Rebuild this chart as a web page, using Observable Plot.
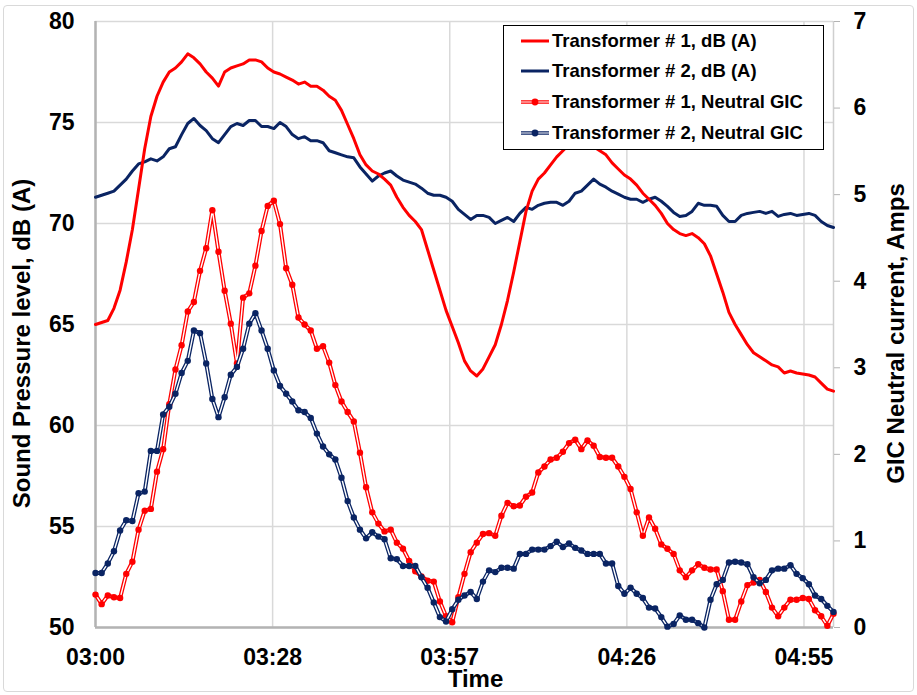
<!DOCTYPE html>
<html>
<head>
<meta charset="utf-8">
<script src="https://cdn.jsdelivr.net/npm/d3@7"></script>
<script src="https://cdn.jsdelivr.net/npm/@observablehq/plot@0.6"></script>
<style>
  body { margin: 0; background: #fff; font-family: "Liberation Sans", Arial, sans-serif; }
  #wrap { position: relative; width: 917px; height: 695px; overflow: hidden; }
  #frame { position: absolute; left: 3px; top: 5px; width: 911px; height: 687px; border: 1px solid #d9d9d9; border-radius: 4px; box-sizing: border-box; pointer-events: none; }
  #legend { position: absolute; left: 503px; top: 25px; width: 321px; height: 125px; border: 1.5px solid #000; background: #fff; box-sizing: border-box; }
  .item { position: absolute; left: 17px; height: 30px; display: flex; align-items: center; font-weight: bold; font-size: 18.5px; color: #000; white-space: nowrap; }
  .item svg { margin-right: 3px; }
</style>
</head>
<body>
<div id="wrap"><div id="frame"></div></div>
<script>
// ---- data (one sample per minute starting 03:00) ----
const startLabel = "03:00";
const t1dB = [65.0,65.1,65.2,65.8,66.7,68.1,69.7,71.7,73.7,75.3,76.3,77.0,77.5,77.7,78.0,78.4,78.2,77.9,77.5,77.2,
  76.8,77.5,77.7,77.8,77.9,78.1,78.1,78.0,77.7,77.5,77.4,77.25,77.1,76.9,77.0,76.8,76.8,76.6,76.3,76.1,
  75.6,74.9,74.2,73.4,72.9,72.6,72.45,72.2,71.9,71.3,70.8,70.4,70.1,69.7,68.7,67.7,66.7,65.7,64.9,64.1,
  63.2,62.7,62.45,62.8,63.4,64.0,65.0,66.2,67.6,69.1,70.6,71.6,72.2,72.5,72.9,73.3,73.6,73.9,74.1,74.2,
  74.1,73.8,73.6,73.4,73.0,72.7,72.4,72.2,71.9,71.5,71.2,70.9,70.5,70.0,69.7,69.5,69.4,69.5,69.3,69.0,
  68.4,67.5,66.6,65.6,65.0,64.5,64.0,63.6,63.4,63.2,63.0,62.9,62.6,62.7,62.6,62.55,62.5,62.4,62.1,61.8,61.7];
const t2dB = [71.3,71.4,71.5,71.6,71.9,72.2,72.6,72.95,73.05,73.2,73.1,73.3,73.7,73.8,74.4,74.95,75.2,74.85,74.6,74.2,
  74.0,74.4,74.8,74.95,74.85,75.1,75.1,74.8,74.8,74.7,75.0,74.8,74.4,74.2,74.3,74.1,74.1,74.0,73.6,73.5,
  73.4,73.3,73.25,72.8,72.45,72.1,72.35,72.5,72.6,72.35,72.15,72.05,71.95,71.75,71.5,71.4,71.4,71.3,71.1,70.7,
  70.45,70.2,70.4,70.4,70.3,70.0,70.15,70.3,70.1,70.5,70.8,70.7,70.9,71.0,71.05,71.05,70.9,71.1,71.5,71.6,
  71.9,72.2,71.95,71.8,71.6,71.45,71.3,71.2,71.2,71.05,71.2,71.3,71.1,70.85,70.55,70.35,70.4,70.6,71.0,70.9,
  70.9,70.85,70.4,70.1,70.1,70.4,70.5,70.55,70.6,70.5,70.6,70.35,70.45,70.5,70.4,70.45,70.5,70.4,70.1,69.9,69.8];
const t1GIC = [0.38,0.27,0.37,0.35,0.34,0.62,0.76,1.13,1.35,1.37,1.80,2.06,2.58,2.98,3.26,3.65,3.76,4.12,4.38,4.82,
  4.34,3.89,3.51,3.05,3.81,3.86,4.18,4.58,4.87,4.93,4.66,4.15,3.96,3.58,3.50,3.43,3.22,3.25,3.06,2.80,
  2.61,2.49,2.38,2.02,1.62,1.33,1.20,1.11,1.13,0.98,0.91,0.77,0.65,0.59,0.54,0.53,0.30,0.13,0.06,0.35,
  0.62,0.87,0.98,1.08,1.09,1.06,1.29,1.44,1.40,1.41,1.51,1.56,1.79,1.86,1.94,1.96,2.03,2.13,2.17,2.06,
  2.16,2.10,1.97,1.96,1.96,1.86,1.74,1.60,1.33,1.06,1.27,1.14,0.96,0.91,0.85,0.66,0.58,0.66,0.73,0.69,
  0.67,0.67,0.42,0.09,0.09,0.30,0.49,0.52,0.55,0.41,0.23,0.13,0.23,0.32,0.32,0.34,0.33,0.20,0.13,0.02,0.16];
const t2GIC = [0.63,0.63,0.74,0.88,1.12,1.24,1.23,1.55,1.57,2.04,2.04,2.46,2.55,2.70,2.94,3.08,3.43,3.40,3.05,2.64,
  2.43,2.66,2.92,3.01,3.22,3.51,3.63,3.43,3.22,2.97,2.79,2.70,2.61,2.51,2.49,2.42,2.24,2.09,2.00,1.94,
  1.73,1.46,1.27,1.13,1.03,1.10,1.05,1.02,0.80,0.79,0.71,0.71,0.71,0.58,0.46,0.29,0.12,0.07,0.21,0.32,
  0.37,0.41,0.33,0.53,0.66,0.64,0.69,0.69,0.68,0.85,0.85,0.90,0.90,0.90,0.94,0.99,0.93,0.97,0.92,0.89,
  0.85,0.85,0.85,0.74,0.74,0.48,0.39,0.46,0.39,0.34,0.23,0.22,0.12,0.01,0.04,0.14,0.09,0.09,0.05,0.00,
  0.32,0.50,0.55,0.75,0.76,0.75,0.73,0.58,0.51,0.55,0.66,0.68,0.68,0.72,0.62,0.57,0.50,0.37,0.33,0.25,0.18];

const seriesNames = ["Transformer # 1, dB (A)", "Transformer # 2, dB (A)", "Transformer # 1, Neutral GIC", "Transformer # 2, Neutral GIC"];
const seriesColors = ["#ff0000", "#0a2463", "#ff0000", "#0a2463"];

const xTicks = [0, 28.8, 57.6, 86.4, 115.2];          // minutes after 03:00
const xTickLabels = ["03:00", "03:28", "03:57", "04:26", "04:55"];
const dbTicks = [50, 55, 60, 65, 70, 75, 80];
const ampTicks = [0, 1, 2, 3, 4, 5, 6, 7];
const dbDomain = [50, 80];
const ampDomain = [0, 7];
const xDomain = [0, 120];

// map amps onto the dB scale (secondary axis)
const amp2db = a => dbDomain[0] + (a - ampDomain[0]) * (dbDomain[1] - dbDomain[0]) / (ampDomain[1] - ampDomain[0]);
const db2amp = d => ampDomain[0] + (d - dbDomain[0]) * (ampDomain[1] - ampDomain[0]) / (dbDomain[1] - dbDomain[0]);

const rows = (arr, k) => arr.map((v, i) => ({t: i, v, s: seriesNames[k]}));
const r1 = rows(t1dB, 0), r2 = rows(t2dB, 1), g1 = rows(t1GIC, 2), g2 = rows(t2GIC, 3);

const FONT = "Liberation Sans, Arial, sans-serif";
const gicMarks = (data, color) => [
  Plot.line(data, {x: "t", y: d => amp2db(d.v), stroke: color, strokeWidth: 4}),
  Plot.line(data, {x: "t", y: d => amp2db(d.v), stroke: "#ffffff", strokeWidth: 1.4}),
  Plot.dot(data, {x: "t", y: d => amp2db(d.v), fill: color, r: 3.2, stroke: "none"})
];

const chart = Plot.plot({
  width: 917,
  height: 695,
  marginLeft: 95,
  marginRight: 84,
  marginTop: 21,
  marginBottom: 68,
  style: {fontFamily: FONT, fontWeight: "bold", color: "#000", background: "transparent", overflow: "visible"},
  x: {domain: xDomain},
  y: {domain: dbDomain},
  marks: [
    Plot.gridY(dbTicks, {stroke: "#d9d9d9", strokeOpacity: 1, strokeWidth: 1.5}),
    Plot.gridX(xTicks, {stroke: "#d9d9d9", strokeOpacity: 1, strokeWidth: 1.5}),
    Plot.ruleX([xDomain[1]], {stroke: "#cfcfcf", strokeWidth: 1.5}),
    Plot.ruleX([xDomain[0]], {stroke: "#b3b3b3", strokeWidth: 2.5}),
    Plot.ruleY([dbDomain[0]], {stroke: "#b3b3b3", strokeWidth: 2.5}),
    Plot.axisY(dbTicks, {anchor: "left", tickSize: 0, tickPadding: 21, fontSize: 23, fontWeight: "bold", fill: "#000", label: null}),
    Plot.axisY(ampTicks.map(amp2db), {anchor: "right", tickSize: 6, tickPadding: 14, fontSize: 23, fontWeight: "bold",
      stroke: "#b3b3b3", fill: "#000", label: null, tickFormat: d => String(Math.round(db2amp(d)))}),
    Plot.axisX(xTicks, {anchor: "bottom", tickSize: 0, tickPadding: 21, fontSize: 23, fontWeight: "bold", fill: "#000", label: null,
      tickFormat: d => xTickLabels[xTicks.indexOf(d)]}),
    Plot.line(r2, {x: "t", y: "v", stroke: seriesColors[1], strokeWidth: 3}),
    Plot.line(r1, {x: "t", y: "v", stroke: seriesColors[0], strokeWidth: 3}),
    ...gicMarks(g1, seriesColors[2]),
    ...gicMarks(g2, seriesColors[3]),
    Plot.text(["Sound Pressure level, dB (A)"], {frameAnchor: "left", dx: -73, dy: 19, rotate: -90, textAnchor: "middle", lineAnchor: "middle", fontSize: 24, fontWeight: "bold", fill: "#000"}),
    Plot.text(["GIC Neutral current, Amps"], {frameAnchor: "right", dx: 63, dy: 9, rotate: -90, textAnchor: "middle", lineAnchor: "middle", fontSize: 24, fontWeight: "bold", fill: "#000"}),
    Plot.text(["Time"], {frameAnchor: "bottom", dx: 11, dy: 52, textAnchor: "middle", lineAnchor: "middle", fontSize: 24, fontWeight: "bold", fill: "#000"})
  ]
});

const wrap = document.getElementById("wrap");
wrap.insertBefore(chart, wrap.firstChild);

// legend (inside the plot area, top right)
const legend = document.createElement("div");
legend.id = "legend";
const centers = [16, 46.7, 77.4, 108.1];
seriesNames.forEach((name, i) => {
  const item = document.createElement("div");
  item.className = "item";
  item.style.top = (centers[i] - 15 - 1.5) + "px";
  const c = seriesColors[i];
  const gic = i >= 2;
  const sw = gic
    ? `<svg width="28" height="12"><line x1="0" y1="6" x2="28" y2="6" stroke="${c}" stroke-width="4" opacity="0.75"/><line x1="0" y1="6" x2="28" y2="6" stroke="#fff" stroke-width="1.2" opacity="0.6"/><circle cx="14" cy="6" r="3.4" fill="${c}"/></svg>`
    : `<svg width="28" height="12"><line x1="0" y1="6" x2="28" y2="6" stroke="${c}" stroke-width="3"/></svg>`;
  item.innerHTML = sw + `<span>${name}</span>`;
  legend.appendChild(item);
});
wrap.appendChild(legend);
</script>
</body>
</html>
